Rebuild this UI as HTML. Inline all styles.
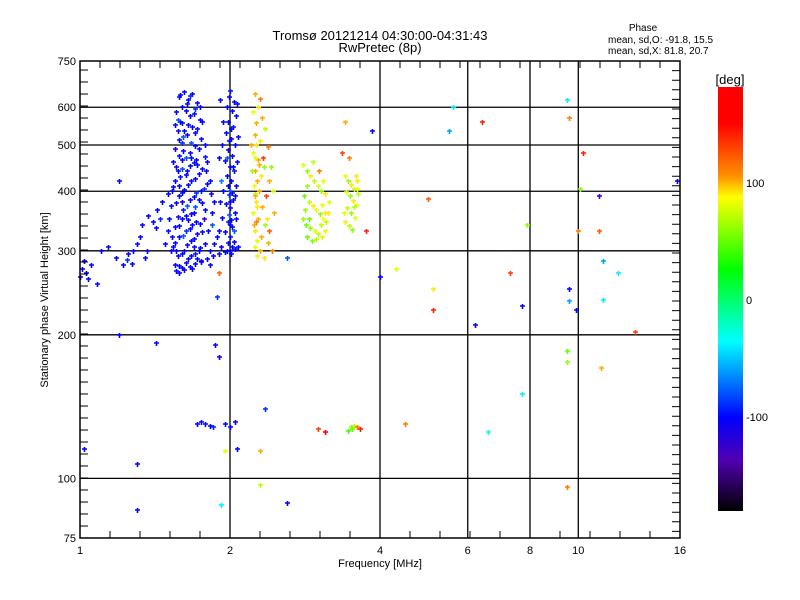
<!DOCTYPE html>
<html><head><meta charset="utf-8"><style>
html,body{margin:0;padding:0;background:#fff;}
svg{display:block;font-family:"Liberation Sans",sans-serif;}
</style></head><body>
<svg id="chart" width="800" height="600" viewBox="0 0 800 600">
<rect width="800" height="600" fill="#fff"/>
<defs><linearGradient id="cbar" x1="0" y1="0" x2="0" y2="1">
<stop offset="0" stop-color="#ff0000"/><stop offset="0.085" stop-color="#ff0000"/>
<stop offset="0.21" stop-color="#ff9000"/><stop offset="0.26" stop-color="#ffff00"/>
<stop offset="0.43" stop-color="#00ff00"/><stop offset="0.60" stop-color="#00ffff"/>
<stop offset="0.78" stop-color="#0000ff"/><stop offset="0.88" stop-color="#5000b0"/>
<stop offset="1" stop-color="#000000"/></linearGradient></defs>
<g id="grid"></g>
<g id="marks"></g>
<g id="axes"></g>
<text x="380" y="40" text-anchor="middle" font-size="13">Tromsø 20121214 04:30:00-04:31:43</text>
<text x="380" y="52" text-anchor="middle" font-size="13">RwPretec (8p)</text>
<text x="643" y="31" text-anchor="middle" font-size="10">Phase</text>
<text x="608" y="43" font-size="10">mean, sd,O: -91.8, 15.5</text>
<text x="608" y="54" font-size="10">mean, sd,X:  81.8, 20.7</text>
<text x="380" y="567" text-anchor="middle" font-size="11">Frequency [MHz]</text>
<text transform="translate(48,300) rotate(-90)" text-anchor="middle" font-size="11">Stationary phase Virtual Height [km]</text>
<rect x="718" y="87" width="25" height="424" fill="url(#cbar)"/>
<text x="730" y="84" text-anchor="middle" font-size="13">[deg]</text>
<g id="cbticks"></g>
</svg>
<script>
const xTicks=[1,2,4,6,8,10,16];
const yTicks=[75,100,200,300,400,500,600,750];
const xGrid=[2,4,6,8,10];
const yGrid=[100,200,300,400,500,600];
const cbTicks=[100,0,-100];
const lowTrace=[[1.0,265,-100],[1.01,275,-100],[1.02,285,-100],[1.03,270,-100],[1.05,280,-100],[1.08,255,-100],[1.1,300,-100],[1.14,305,-100],[1.18,290,-100],[1.22,280,-100],[1.25,295,-100],[1.28,300,-100],[1.3,310,-100],[1.33,340,-100],[1.37,355,-100],[1.4,345,-100],[1.43,365,-100],[1.46,380,-100],[1.5,330,-100],[1.48,310,-100],[1.35,290,-100],[1.27,282,-100],[1.2,420,-100],[1.52,300,-100],[1.5,395,-100],[1.04,262,-100],[1.24,287,-90],[1.32,320,-100],[1.36,300,-100],[1.42,335,-100],[1.45,350,-90]];
const clusterA=[[1.62,645,-100],[1.68,640,-105],[1.58,630,-95],[1.65,620,-100],[1.72,612,-110],[1.6,600,-100],[1.7,595,-90],[1.56,585,-100],[1.66,575,-105],[1.74,565,-100],[1.6,555,-95],[1.68,545,-100],[1.57,535,-110],[1.64,525,-100],[1.75,515,-100],[1.6,505,-90],[1.7,498,-100],[1.55,490,-105],[1.66,480,-100],[1.78,472,-95],[1.6,465,-100],[1.69,458,-100],[1.56,450,-110],[1.64,442,-100],[1.73,435,-100],[1.59,428,-95],[1.67,420,-100],[1.8,414,-105],[1.54,408,-100],[1.62,402,-100],[1.71,396,-90],[1.58,390,-100],[1.66,384,-105],[1.76,378,-100],[1.52,372,-100],[1.61,366,-95],[1.69,360,-100],[1.57,354,-110],[1.65,348,-100],[1.74,342,-100],[1.55,336,-100],[1.63,330,-90],[1.72,325,-100],[1.58,320,-100],[1.67,315,-105],[1.78,310,-100],[1.54,305,-100],[1.62,300,-100],[1.7,296,-95],[1.57,292,-100],[1.65,288,-100],[1.75,284,-110],[1.55,280,-100],[1.6,276,-100],[1.56,272,-100],[1.58,270,-100],[1.62,274,-100],[1.66,278,-100],[1.7,281,-100],[1.75,285,-100],[1.8,289,-100],[1.85,292,-100],[1.9,295,-100],[1.95,298,-100],[2.0,300,-100],[2.05,303,-100],[2.08,306,-100],[1.64,610,-100],[1.59,560,-100],[1.7,530,-100],[1.63,470,-80],[1.57,440,-100],[1.75,400,-100],[1.6,380,-100],[1.68,340,-100],[1.73,300,-100],[1.53,320,-100],[1.77,350,-120],[1.81,330,-100],[1.84,360,-100],[1.86,310,-100],[1.79,440,-100],[1.83,395,-110],[1.61,520,-80],[1.67,470,-100],[1.72,455,-100],[1.58,410,-100],[1.7,370,-80],[1.63,355,-100],[1.56,300,-100],[1.69,305,-100]];
const clusterA2=[[1.59,638,-100],[1.66,632,-90],[1.63,590,-100],[1.69,580,-100],[1.57,565,-80],[1.65,550,-100],[1.72,540,-100],[1.62,535,-100],[1.58,512,-100],[1.67,505,-80],[1.73,490,-100],[1.61,485,-100],[1.58,475,-100],[1.71,466,-100],[1.66,452,-100],[1.6,445,-80],[1.76,445,-100],[1.63,432,-100],[1.7,425,-100],[1.55,420,-100],[1.65,412,-100],[1.77,405,-90],[1.6,396,-100],[1.69,389,-100],[1.73,383,-100],[1.56,378,-100],[1.64,372,-80],[1.78,366,-100],[1.67,358,-100],[1.6,350,-100],[1.71,344,-100],[1.58,338,-100],[1.66,334,-100],[1.76,328,-100],[1.61,322,-80],[1.69,318,-100],[1.55,312,-100],[1.64,308,-100],[1.74,304,-100],[1.6,296,-100],[1.67,292,-100],[1.72,288,-100],[1.63,283,-100],[1.58,279,-100],[1.68,275,-100],[1.82,300,-100],[1.88,320,-100],[1.84,340,-80],[1.86,380,-100],[1.82,420,-100],[1.8,460,-100],[1.78,500,-100],[1.76,560,-100],[1.74,600,-100],[1.54,460,-100],[1.53,400,-100],[1.51,350,-100],[1.55,550,-100]];
const clusterB=[[2.0,650,-95],[1.99,630,-100],[2.04,615,-100],[1.97,600,-100],[2.02,590,-105],[2.06,575,-100],[1.98,560,-100],[2.03,545,-95],[1.96,530,-100],[2.01,515,-100],[2.05,500,-100],[1.98,488,-110],[2.02,475,-100],[1.95,462,-100],[2.0,450,-100],[2.04,440,-95],[1.97,430,-100],[2.01,420,-100],[2.06,410,-100],[1.94,400,-100],[1.99,392,-90],[2.03,384,-100],[1.96,376,-100],[2.0,368,-100],[2.05,360,-100],[1.93,352,-100],[1.98,344,-95],[2.02,336,-100],[1.95,328,-100],[2.0,320,-100],[2.04,313,-100],[1.92,306,-100],[1.97,300,-100],[2.01,295,-100],[1.9,330,-100],[1.91,380,-100],[1.92,420,-70],[2.07,460,-100],[2.08,520,-100],[1.9,470,-100],[1.93,500,-100],[1.94,560,-100],[2.07,610,-100],[1.91,620,-100],[2.0,400,-80],[1.98,410,-100],[2.02,396,-100],[2.0,380,-100],[1.99,356,-80],[2.01,348,-100],[2.0,340,-100],[1.98,312,-100],[2.02,305,-100],[2.04,330,-80],[2.06,350,-100],[2.05,390,-100],[2.03,450,-100],[1.97,470,-80],[1.99,510,-100],[2.01,540,-100]];
const clusterC=[[2.25,640,100],[2.3,625,110],[2.28,600,90],[2.22,585,80],[2.32,570,100],[2.26,555,100],[2.35,540,70],[2.24,525,100],[2.3,510,90],[2.38,495,110],[2.22,480,80],[2.28,465,100],[2.34,450,60],[2.25,440,100],[2.31,430,90],[2.4,420,100],[2.23,410,80],[2.29,400,100],[2.36,390,130],[2.26,380,90],[2.32,370,100],[2.22,360,80],[2.28,350,100],[2.35,340,60],[2.25,330,90],[2.31,320,100],[2.38,312,100],[2.24,305,80],[2.3,300,100],[2.27,292,90],[2.42,450,60],[2.44,400,80],[2.45,360,100],[2.2,500,100],[2.21,440,60],[2.33,470,130],[2.37,350,90],[2.4,330,120],[2.34,290,90],[2.43,300,110],[2.26,500,90],[2.24,470,80],[2.27,420,100],[2.25,395,70],[2.27,370,90],[2.23,340,100],[2.27,315,80],[2.29,455,100],[2.26,345,110],[2.24,390,100]];
const clusterD=[[2.8,455,80],[2.85,440,60],[2.9,430,90],[2.95,420,70],[3.0,410,80],[3.05,400,60],[3.1,395,90],[2.82,390,50],[2.88,380,70],[2.93,372,90],[2.98,365,80],[3.03,358,60],[3.08,350,85],[3.12,345,70],[2.84,340,50],[2.9,335,60],[2.96,330,80],[3.0,325,70],[3.06,320,90],[3.1,330,80],[2.86,320,50],[2.92,315,55],[2.98,318,70],[3.14,360,90],[3.16,380,80],[2.8,350,60],[3.02,440,110],[2.94,460,70],[3.08,420,80],[2.86,410,60],[3.05,340,70],[3.1,360,90],[3.06,375,80],[2.83,365,60],[2.88,350,50]];
const clusterE=[[3.4,430,80],[3.45,420,60],[3.5,412,90],[3.55,405,70],[3.42,398,80],[3.48,390,60],[3.53,382,90],[3.58,375,80],[3.44,368,70],[3.5,360,60],[3.56,352,80],[3.41,345,90],[3.47,338,70],[3.52,332,60],[3.6,420,90],[3.38,360,80],[3.62,395,70],[3.46,470,110],[3.4,560,100],[3.36,480,130],[3.6,405,80],[3.58,430,90],[3.55,370,70]];
const sporadic=[[5.6,600,-40],[5.5,535,-60],[6.4,560,140],[5.0,385,120],[4.3,275,80],[4.0,265,-100],[5.1,250,90],[5.1,225,140],[6.2,210,-100],[7.3,270,130],[7.7,230,-100],[7.9,340,60],[9.6,250,-100],[9.6,236,-60],[9.9,225,-100],[10,330,110],[10.2,480,140],[10.1,405,60],[9.5,620,-40],[9.6,570,110],[11,390,-130],[11,330,120],[11.2,285,-60],[11.2,237,-40],[12,270,-40],[13,203,130],[15.8,420,-100],[9.5,185,50],[9.5,175,60],[11.1,170,100],[7.7,150,-40],[1.2,200,-100],[1.42,192,-100],[1.88,240,-90],[1.87,190,-100],[1.9,180,-110],[2.35,140,-90],[1.72,130,-100],[1.78,130,-100],[1.82,129,-100],[1.75,131,-100],[1.95,130,-100],[2.0,128,-100],[2.05,131,-100],[1.85,128,-90],[3.0,127,130],[3.1,125,150],[3.5,128,60],[3.52,127,50],[3.55,129,70],[3.45,126,40],[3.6,128,110],[4.5,130,110],[6.6,125,-30],[1.02,115,-100],[1.3,107,-100],[1.95,114,80],[2.07,115,-100],[2.3,114,100],[2.3,97,70],[2.6,89,-100],[1.92,88,-40],[1.3,86,-100],[9.5,96,110],[3.65,127,140],[1.82,280,-100],[1.9,270,120],[2.6,290,-80],[3.85,535,-100],[3.75,330,140]];

const X0=80,X1=680,Y0=538,Y1=61;
const xs=f=>X0+(X1-X0)*Math.log2(f)/4;
const ys=h=>Y0-(Y0-Y1)*Math.log10(h/75);
const NS='http://www.w3.org/2000/svg';
function mk(tag,parent){const e=document.createElementNS(NS,tag);parent.appendChild(e);return e;}
const stops=[[0,[255,0,0]],[0.085,[255,0,0]],[0.21,[255,144,0]],[0.26,[255,255,0]],[0.43,[0,255,0]],[0.60,[0,255,255]],[0.78,[0,0,255]],[0.88,[80,0,176]],[1,[0,0,0]]];
function color(p){let t=(180-p)/360;t=Math.max(0,Math.min(1,t));
 for(let i=1;i<stops.length;i++){if(t<=stops[i][0]){const a=stops[i-1],b=stops[i];const u=(t-a[0])/(b[0]-a[0]||1);
 const c=a[1].map((v,k)=>Math.round(v+(b[1][k]-v)*u));return 'rgb('+c.join(',')+')';}}return '#000';}
const grid=document.getElementById('grid'),axes=document.getElementById('axes'),marks=document.getElementById('marks');
xGrid.forEach(f=>{const l=mk('line',grid);l.setAttribute('x1',xs(f));l.setAttribute('x2',xs(f));l.setAttribute('y1',Y1);l.setAttribute('y2',Y0);l.setAttribute('stroke','#000');l.setAttribute('stroke-width','1.3');

});
yGrid.forEach(h=>{const l=mk('line',grid);l.setAttribute('x1',X0);l.setAttribute('x2',X1);l.setAttribute('y1',ys(h));l.setAttribute('y2',ys(h));l.setAttribute('stroke','#000');l.setAttribute('stroke-width','1.3');

});
[lowTrace,clusterA,clusterA2,clusterB,clusterC,clusterD,clusterE,sporadic].forEach(set=>set.forEach(d=>{
 const x=Math.round(xs(d[0])),y=Math.round(ys(d[1]));const p=mk('path',marks);
 p.setAttribute('d','M'+(x-2)+' '+y+'H'+(x+3)+'M'+(x+0.5)+' '+(y-2)+'V'+(y+3));
 p.setAttribute('stroke',color(d[2]));p.setAttribute('stroke-width','1.6');
 
 }));
const fr=mk('rect',axes);fr.setAttribute('x',X0);fr.setAttribute('y',Y1);fr.setAttribute('width',X1-X0);fr.setAttribute('height',Y0-Y1);fr.setAttribute('fill','none');fr.setAttribute('stroke','#000');fr.setAttribute('stroke-width','1.5');


let tk='';
for(let x=X0+30;x<X1;x+=30){tk+='M'+x+' '+Y0+'v-7';}
for(let x=X0+20;x<X1;x+=20){tk+='M'+x+' '+Y1+'v7';}
for(let y=Y0-12;y>Y1;y-=12){tk+='M'+X0+' '+y+'h8';}
for(let y=Y1+9.6;y<Y0;y+=9.6){tk+='M'+X1+' '+y+'h-8';}
const tp=mk('path',axes);tp.setAttribute('d',tk);tp.setAttribute('stroke','#000');


xTicks.forEach(f=>{const t=mk('text',axes);t.setAttribute('x',xs(f));t.setAttribute('y',Y0+16);t.setAttribute('text-anchor','middle');t.setAttribute('font-size','11');t.textContent=f;

});
yTicks.forEach(h=>{const t=mk('text',axes);t.setAttribute('x',X0-4);t.setAttribute('y',ys(h)+4);t.setAttribute('text-anchor','end');t.setAttribute('font-size','11');t.textContent=h;

});
const cb=document.getElementById('cbticks');
cbTicks.forEach(v=>{const t=mk('text',cb);t.setAttribute('x',746);t.setAttribute('y',300-v*1.17+4);t.setAttribute('font-size','11');t.textContent=v;

});
</script>
</body></html>
